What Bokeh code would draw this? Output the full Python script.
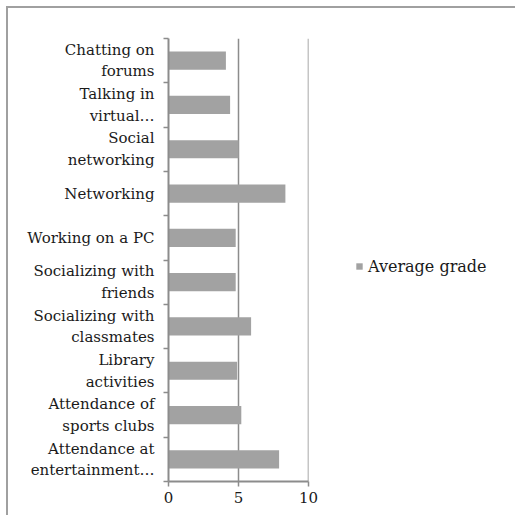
from bokeh.plotting import figure
from bokeh.models import (ColumnDataSource, Range1d, LinearAxis, Span,
                          FixedTicker, Legend, LegendItem)
from bokeh.embed import file_html
from bokeh.resources import INLINE

# data (top to bottom as shown)
categories = [
    "Chatting on\nforums",
    "Talking in\nvirtual\u2026",
    "Social\nnetworking",
    "Networking",
    "Working on a PC",
    "Socializing with\nfriends",
    "Socializing with\nclassmates",
    "Library\nactivities",
    "Attendance of\nsports clubs",
    "Attendance at\nentertainment\u2026",
]
average_grade = [4.1, 4.4, 5.0, 8.35, 4.8, 4.8, 5.9, 4.9, 5.2, 7.9]
x_ticks = [0, 5, 10]
series_name = "Average grade"

FONT = "DejaVu Serif"
GRAY = "#8c8c8c"
BAR = "#a2a2a2"

n = len(categories)
ypos = [n - i - 0.5 for i in range(n)]  # category centres, first category on top
src = ColumnDataSource(dict(y=ypos, val=average_grade))

p = figure(frame_width=140, frame_height=443, y_range=Range1d(0, n),
           x_range=Range1d(x_ticks[0], x_ticks[-1]), output_backend="svg", toolbar_location=None,
           x_axis_location=None, y_axis_location=None,
           min_border_left=160, min_border_right=0, min_border_top=30, min_border_bottom=34)
p.outline_line_color = None
p.background_fill_color = "white"
p.border_fill_color = "white"

r = p.hbar(y="y", right="val", left=0, height=0.41, source=src,
           fill_color=BAR, line_color=None)
# invisible spacer renderer used only to offset the legend entry
spacer = p.hbar(y=[], right=[], left=0, height=0.41, fill_alpha=0, line_alpha=0)

# boundary ticks on the left (between categories)
tick_axis = LinearAxis(ticker=FixedTicker(ticks=list(range(n + 1))))
tick_axis.major_label_overrides = {i: "" for i in range(n + 1)}
tick_axis.major_label_standoff = 0
tick_axis.major_tick_out = 5
tick_axis.major_tick_in = 0
tick_axis.minor_tick_line_color = None
tick_axis.axis_line_color = GRAY
tick_axis.axis_line_width = 2
tick_axis.major_tick_line_color = GRAY
tick_axis.major_tick_line_width = 1.5
tick_axis.major_label_text_font_size = "1px"
p.add_layout(tick_axis, "left")

cat_axis = LinearAxis(ticker=FixedTicker(ticks=ypos))
cat_axis.major_label_overrides = {y: c for y, c in zip(ypos, categories)}
cat_axis.axis_line_color = None
cat_axis.major_tick_line_color = None
cat_axis.minor_tick_line_color = None
cat_axis.major_tick_out = 0
cat_axis.major_tick_in = 0
cat_axis.major_label_standoff = 9
cat_axis.major_label_text_font = FONT
cat_axis.major_label_text_font_size = "15px"
cat_axis.major_label_text_color = "#1a1a1a"
p.add_layout(cat_axis, "left")

xa = LinearAxis(ticker=FixedTicker(ticks=x_ticks))
xa.axis_line_color = GRAY
xa.axis_line_width = 2
xa.major_tick_line_color = GRAY
xa.major_tick_line_width = 1.5
xa.major_tick_out = 5
xa.major_tick_in = 0
xa.minor_tick_line_color = None
xa.major_label_standoff = 5
xa.major_label_text_font = FONT
xa.major_label_text_font_size = "15px"
xa.major_label_text_color = "#1a1a1a"
p.add_layout(xa, "below")

p.xgrid.ticker = FixedTicker(ticks=x_ticks)
p.xgrid.grid_line_color = GRAY
p.xgrid.grid_line_width = 1.5
p.ygrid.grid_line_color = None
p.add_layout(Span(location=x_ticks[-1], dimension="height", line_color=GRAY, line_width=1.5))

legend = Legend(items=[LegendItem(label=" ", renderers=[spacer]),
                       LegendItem(label=series_name, renderers=[r])],
                orientation="horizontal", location=(0, 205), padding=0, margin=0,
                border_line_color=None, spacing=4, label_width=30,
                background_fill_alpha=0, glyph_width=8, glyph_height=8, label_standoff=5,
                label_text_font=FONT, label_text_font_size="16px", label_text_color="#1a1a1a",
                label_height=20)
p.add_layout(legend, "right")

p.styles = {"margin-left": "6px", "margin-top": "6px",
            "border-top": "2px solid #a0a0a0", "border-left": "2px solid #a0a0a0"}

open("out.html", "w").write(file_html(p, INLINE))
